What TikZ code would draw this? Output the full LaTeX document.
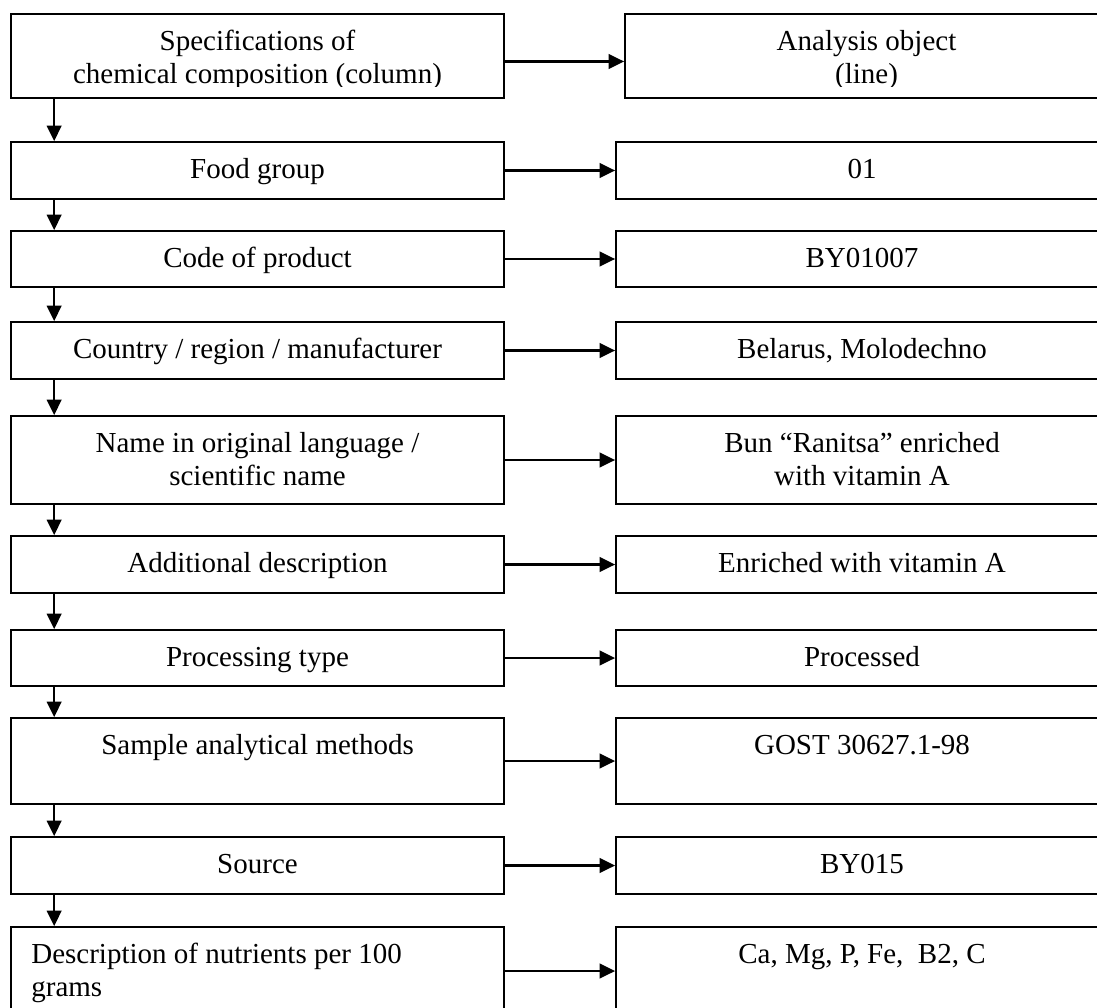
\documentclass[tikz,border=0pt]{standalone}
\usepackage{fontspec}
\setmainfont{Liberation Serif}
\usetikzlibrary{arrows.meta}
\begin{document}
\begin{tikzpicture}[x=1pt,y=-1pt,
  box/.style={draw=black,line width=1.7pt,rectangle,inner sep=0pt},
  lbox/.style={box,minimum width=493pt},
  rbox/.style={box,minimum width=492pt},
  lbl/.style={font=\fontsize{29}{33}\selectfont,align=center,inner sep=0pt,anchor=north},
  arr/.style={line width=2.6pt,-{Triangle[length=15.5pt,width=14.5pt]}}]
\useasboundingbox (0,0) rectangle (1097,1008);
\fill[white] (0,0) rectangle (1097,1008);
% boxes
\node[lbox,minimum height=84pt] (L1) at (257.5,56) {};
\node[box,minimum width=483pt,minimum height=84pt] (R1) at (866.5,56) {};
\node[lbox,minimum height=57pt] (L2) at (257.5,170.5) {};
\node[rbox,minimum height=57pt] (R2) at (862,170.5) {};
\node[lbox,minimum height=56pt] (L3) at (257.5,259) {};
\node[rbox,minimum height=56pt] (R3) at (862,259) {};
\node[lbox,minimum height=57pt] (L4) at (257.5,350.5) {};
\node[rbox,minimum height=57pt] (R4) at (862,350.5) {};
\node[lbox,minimum height=88pt] (L5) at (257.5,460) {};
\node[rbox,minimum height=88pt] (R5) at (862,460) {};
\node[lbox,minimum height=57pt] (L6) at (257.5,564.5) {};
\node[rbox,minimum height=57pt] (R6) at (862,564.5) {};
\node[lbox,minimum height=56pt] (L7) at (257.5,658) {};
\node[rbox,minimum height=56pt] (R7) at (862,658) {};
\node[lbox,minimum height=86pt] (L8) at (257.5,761) {};
\node[rbox,minimum height=86pt] (R8) at (862,761) {};
\node[lbox,minimum height=57pt] (L9) at (257.5,865.5) {};
\node[rbox,minimum height=57pt] (R9) at (862,865.5) {};
\node[lbox,minimum height=88pt] (L10) at (257.5,971) {};
\node[rbox,minimum height=88pt] (R10) at (862,971) {};
% texts
\begin{scope}
\clip (0,14) rectangle (1097,86.5);
\node[lbl] (tL1) at ([yshift=-13.9pt]L1.north) {\strut Specifications of\\chemical composition (column)};
\node[lbl] (tR1) at ([yshift=-13.9pt]R1.north) {\strut Analysis object\\(line)};
\end{scope}
\node[lbl] (tL2) at ([yshift=-13.9pt]L2.north) {\strut Food group};
\node[lbl] (tR2) at ([yshift=-13.9pt]R2.north) {\strut 01};
\node[lbl] (tL3) at ([yshift=-13.9pt]L3.north) {\strut Code of product};
\node[lbl] (tR3) at ([yshift=-13.9pt]R3.north) {\strut BY01007};
\node[lbl] (tL4) at ([yshift=-13.9pt]L4.north) {\strut Country / region / manufacturer};
\node[lbl] (tR4) at ([yshift=-13.9pt]R4.north) {\strut Belarus, Molodechno};
\node[lbl] (tL5) at ([yshift=-13.9pt]L5.north) {\strut Name in original language /\\scientific name};
\node[lbl] (tR5) at ([yshift=-13.9pt]R5.north) {\strut Bun “Ranitsa” enriched\\with vitamin A};
\node[lbl] (tL6) at ([yshift=-13.9pt]L6.north) {\strut Additional description};
\node[lbl] (tR6) at ([yshift=-13.9pt]R6.north) {\strut Enriched with vitamin A};
\node[lbl] (tL7) at ([yshift=-13.9pt]L7.north) {\strut Processing type};
\node[lbl] (tR7) at ([yshift=-13.9pt]R7.north) {\strut Processed};
\node[lbl] (tL8) at ([yshift=-13.9pt]L8.north) {\strut Sample analytical methods};
\node[lbl] (tR8) at ([yshift=-13.9pt]R8.north) {\strut GOST 30627.1-98};
\node[lbl] (tL9) at ([yshift=-13.9pt]L9.north) {\strut Source};
\node[lbl] (tR9) at ([yshift=-13.9pt]R9.north) {\strut BY015};
\node[lbl,anchor=north west,align=left] (tL10) at ([xshift=21pt,yshift=-13.9pt]L10.north west) {\strut Description of nutrients per 100\\grams};
\node[lbl] (tR10) at ([yshift=-13.9pt]R10.north) {\strut Ca, Mg, P, Fe,\ \ B2, C};
% horizontal arrows
\draw[arr] ([yshift=-5.5pt]L1.east) -- ([yshift=-5.5pt]R1.west);
\foreach \i in {2,...,10} {\draw[arr] (L\i.east) -- (R\i.west);}
% vertical arrows
\foreach \i [evaluate=\i as \j using int(\i+1)] in {1,...,9} {\draw[arr] ([xshift=44pt]L\i.south west) -- ([xshift=44pt]L\j.north west);}
\end{tikzpicture}
\end{document}
